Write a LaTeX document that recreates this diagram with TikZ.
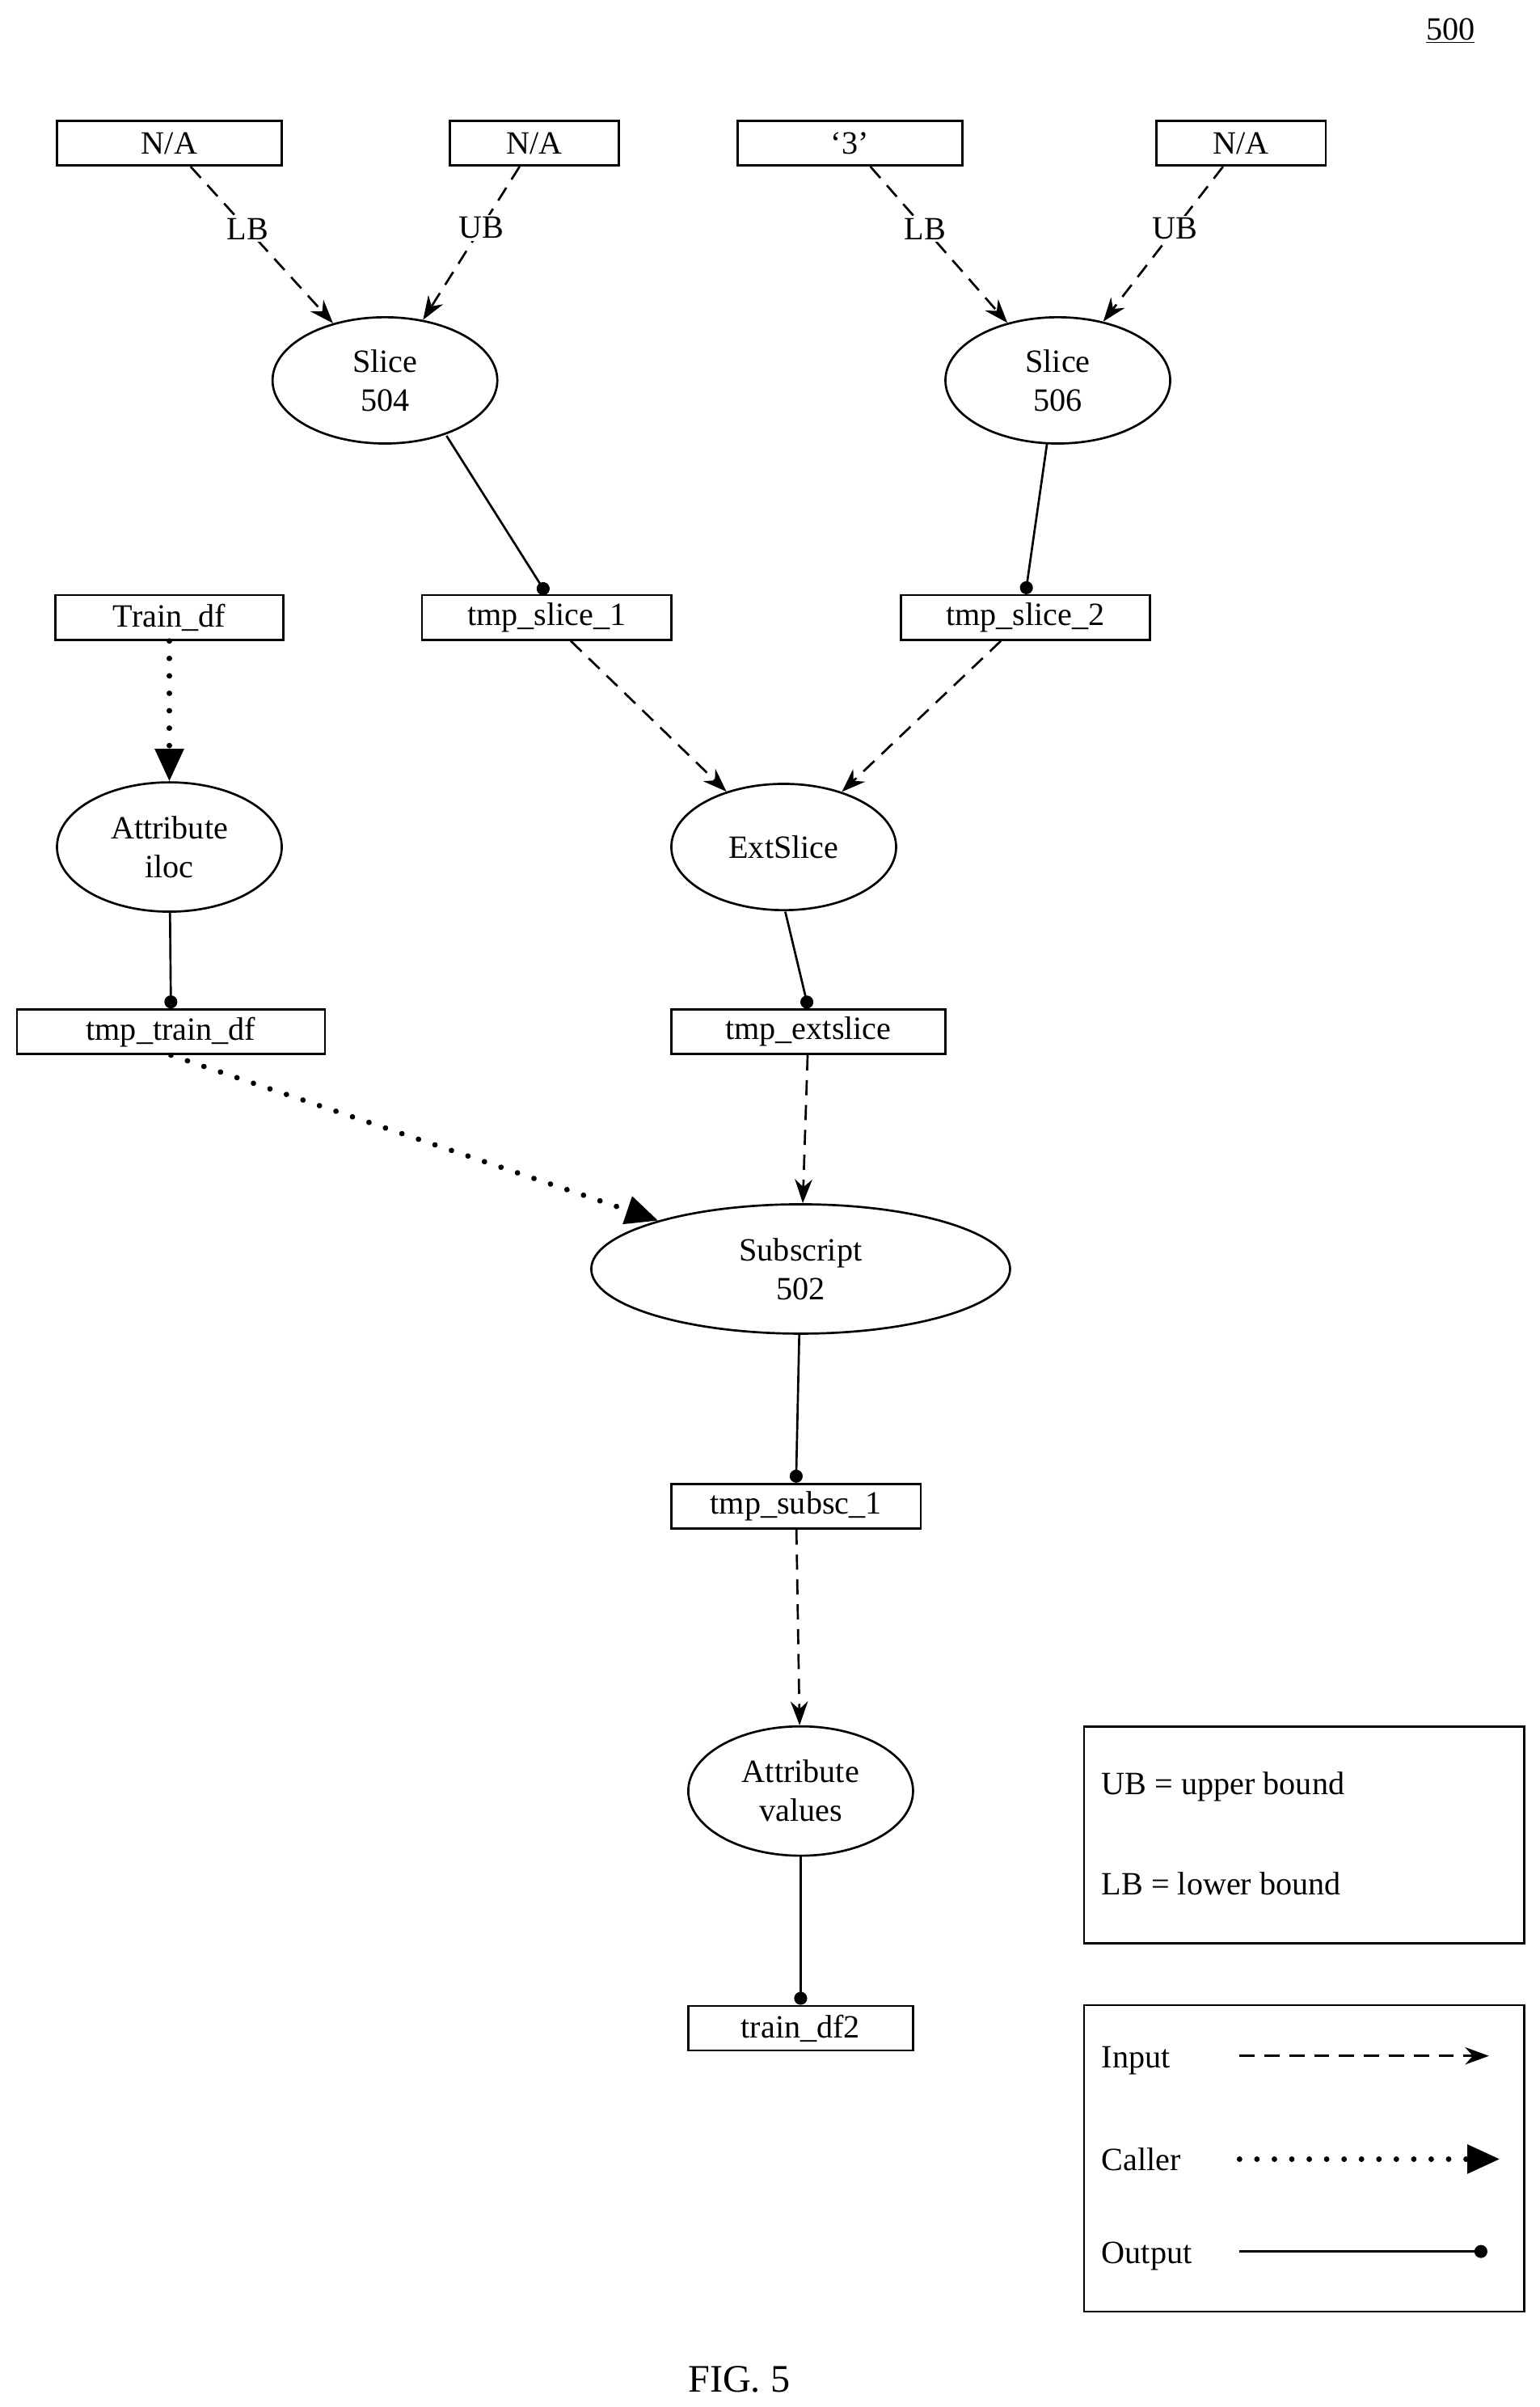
\documentclass[tikz,border=0pt]{standalone}
\usepackage{fontspec}
\setmainfont{Liberation Serif}
\usetikzlibrary{arrows.meta,shapes.geometric}
\begin{document}
\begin{tikzpicture}[x=0.05cm,y=-0.05cm,
  font=\fontsize{30}{36}\selectfont,
  box/.style={draw,line width=2pt,minimum height=1.45cm,inner sep=0pt},
  ell/.style={draw,ellipse,line width=2pt,minimum width=7.3cm,minimum height=4.1cm,inner sep=0pt,align=center},
  inp/.style={line width=2pt,dash pattern=on 14pt off 9pt,-{Stealth[length=22pt,width=16pt]}},
  cal/.style={line width=5pt,dash pattern=on 0.1pt off 16pt,line cap=round,-{Triangle[length=30pt,width=26pt]}},
  outp/.style={line width=2pt,-{Circle[length=12pt]}},
  lab/.style={fill=white,inner sep=2pt}]
\useasboundingbox (0,0) rectangle (1000,1563);
\node[box,minimum width=7.3cm] (na1) at (110,93) {N/A};
\node[box,minimum width=5.5cm] (na2) at (347,93) {N/A};
\node[box,minimum width=7.3cm] (th) at (552,93) {‘3’};
\node[box,minimum width=5.5cm] (na4) at (806,93) {N/A};
\node[ell] (s504) at (250,247) {Slice\\504};
\node[ell] (s506) at (687,247) {Slice\\506};
\node[box,minimum width=7.4cm] (tdf) at (110,401) {Train\_df};
\node[box,minimum width=8.1cm] (ts1) at (355,401) {tmp\_slice\_1};
\node[box,minimum width=8.1cm] (ts2) at (666,401) {tmp\_slice\_2};
\node[ell,minimum height=4.2cm] (iloc) at (110,550) {Attribute\\iloc};
\node[ell] (ext) at (509,550) {ExtSlice};
\node[box,minimum width=10cm] (ttd) at (111,670) {tmp\_train\_df};
\node[box,minimum width=8.9cm] (tex) at (525,670) {tmp\_extslice};
\node[ell,minimum width=13.6cm,minimum height=4.2cm] (sub) at (520,824) {Subscript\\502};
\node[box,minimum width=8.1cm] (tsub) at (517,978) {tmp\_subsc\_1};
\node[ell,minimum height=4.2cm] (val) at (520,1163) {Attribute\\values};
\node[box,minimum width=7.3cm] (td2) at (520,1317) {train\_df2};
\node (n500) at (942,20) {\underline{500}};
\node (fig) at (480,1545) {\fontsize{36}{40}\selectfont FIG. 5};
% edges
\draw[inp] (na1) -- node[lab,pos=0.4] {LB} (s504);
\draw[inp] (na2) -- node[lab,pos=0.4] {UB} (s504);
\draw[inp] (th) -- node[lab,pos=0.4] {LB} (s506);
\draw[inp] (na4) -- node[lab,pos=0.4] {UB} (s506);
\draw[outp] (290,283) -- (ts1.north);
\draw[outp] (680,288) -- (ts2.north);
\draw[inp] (ts1) -- (ext);
\draw[inp] (ts2) -- (ext);
\draw[cal] (tdf) -- (iloc);
\draw[outp] (iloc) -- (ttd.north);
\draw[outp] (510,592) -- (tex.north);
\draw[cal] (ttd.south) -- (sub);
\draw[inp] (tex) -- (sub);
\draw[outp] (sub) -- (tsub.north);
\draw[inp] (tsub) -- (val);
\draw[outp] (val) -- (td2.north);
% legend
\node[draw,line width=2pt,minimum width=14.3cm,minimum height=7.05cm] (leg1) at (847,1191.5) {};
\node[anchor=west] (ub) at (713,1160) {UB = upper bound};
\node[anchor=west] (lb) at (713,1223) {LB = lower bound};
\node[draw,line width=2pt,minimum width=14.3cm,minimum height=9.95cm] (leg2) at (847,1401.5) {};
\node[anchor=west] (li) at (713,1338) {Input};
\node[anchor=west] (lc) at (713,1402) {Caller};
\node[anchor=west] (lo) at (713,1465) {Output};
\coordinate (a1) at (805,1335); \coordinate (a2) at (967,1335);
\coordinate (c1) at (805,1402); \coordinate (c2) at (974,1402);
\coordinate (o1) at (805,1462); \coordinate (o2) at (966,1462);
\draw[inp] (a1) -- (a2);
\draw[cal] (c1) -- (c2);
\draw[outp] (o1) -- (o2);
\end{tikzpicture}
\end{document}
